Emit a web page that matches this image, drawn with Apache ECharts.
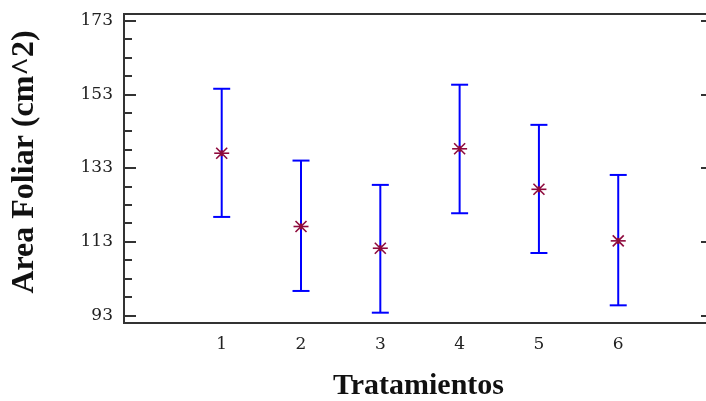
<!DOCTYPE html>
<html>
<head>
<meta charset="utf-8">
<script src="https://cdn.jsdelivr.net/npm/echarts@6/dist/echarts.min.js"></script>
<style>html,body{margin:0;padding:0;background:#fff}#c{width:706px;height:401px}</style>
</head>
<body>
<div id="c"></div>
<script>
var categories = [1, 2, 3, 4, 5, 6];
var means = [137.0, 117.1, 111.2, 138.2, 127.2, 113.2];
var lower = [119.7, 99.6, 93.7, 120.7, 109.9, 95.7];
var upper = [154.5, 135.0, 128.4, 155.6, 144.7, 131.1];
var yTicks = [93, 113, 133, 153, 173];
var yMinorTicks = [98, 103, 108, 118, 123, 128, 138, 143, 148, 158, 163, 168];
var xLabels = ['1', '2', '3', '4', '5', '6'];

var data = categories.map(function (c, i) { return [c, means[i], lower[i], upper[i]]; });
var axisColor = '#333';
var serif = '"Liberation Serif", "DejaVu Serif", serif';
var labelFont = '"DejaVu Serif", serif';
var xMin = -0.232, xMax = 7.195;

function yAxisDef(pos, ticks, len, labels) {
  return {
    type: 'value', position: pos, offset: 0, min: 90.9, max: 174.8,
    axisLine: { show: true, onZero: false, lineStyle: { color: axisColor, width: 2 } },
    axisTick: { show: true, inside: true, length: len, customValues: ticks, lineStyle: { color: axisColor, width: 2 } },
    axisLabel: labels ? { show: true, customValues: ticks, margin: 11, color: '#222', fontFamily: labelFont, fontSize: 17 } : { show: false },
    splitLine: { show: false }
  };
}

var chart = echarts.init(document.getElementById('c'));
chart.setOption({
  animation: false,
  grid: { left: 124, right: -7, top: 14, bottom: 78, outerBoundsMode: 'none', containLabel: false },
  xAxis: [{
    type: 'value', position: 'bottom', offset: 0, min: xMin, max: xMax,
    name: 'Tratamientos', nameLocation: 'middle', nameGap: 48,
    nameTextStyle: { fontFamily: serif, fontWeight: 'bold', fontSize: 30, color: '#111' },
    axisLine: { show: true, onZero: false, lineStyle: { color: axisColor, width: 2 } },
    axisTick: { show: false },
    axisLabel: { show: true, customValues: categories, margin: 13, color: '#222', fontFamily: labelFont, fontSize: 17,
      formatter: function (v) { return xLabels[categories.indexOf(v)]; } },
    splitLine: { show: false }
  }, {
    type: 'value', position: 'top', offset: 0, min: xMin, max: xMax,
    axisLine: { show: true, onZero: false, lineStyle: { color: axisColor, width: 2 } },
    axisTick: { show: false }, axisLabel: { show: false }, splitLine: { show: false }
  }],
  yAxis: [
    yAxisDef('left', yTicks, 12, true),
    yAxisDef('left', yMinorTicks, 8, false),
    yAxisDef('right', yTicks, 12, false),
    yAxisDef('right', yMinorTicks, 6, false)
  ],
  graphic: [{
    type: 'text', x: 25, y: 162, rotation: Math.PI / 2,
    style: { text: 'Area Foliar (cm^2)', fontFamily: serif, fontWeight: 'bold', fontSize: 32, fill: '#111',
      align: 'center', verticalAlign: 'middle' }
  }],
  series: [{
    type: 'custom', xAxisIndex: 0, yAxisIndex: 0, clip: false,
    data: data,
    renderItem: function (params, api) {
      var x = api.value(0);
      var m = api.coord([x, api.value(1)]);
      var lo = api.coord([x, api.value(2)]);
      var hi = api.coord([x, api.value(3)]);
      var cap = 8.5, s = 7.5, d = 5.5;
      var blue = { stroke: '#0000ff', lineWidth: 2 };
      var red = { stroke: '#8e0a3c', lineWidth: 1.6 };
      return {
        type: 'group',
        children: [
          { type: 'line', shape: { x1: lo[0], y1: lo[1], x2: hi[0], y2: hi[1] }, style: blue },
          { type: 'line', shape: { x1: hi[0] - cap, y1: hi[1], x2: hi[0] + cap, y2: hi[1] }, style: blue },
          { type: 'line', shape: { x1: lo[0] - cap, y1: lo[1], x2: lo[0] + cap, y2: lo[1] }, style: blue },
          { type: 'line', shape: { x1: m[0] - s, y1: m[1], x2: m[0] + s, y2: m[1] }, style: red },
          { type: 'line', shape: { x1: m[0] - d, y1: m[1] - d, x2: m[0] + d, y2: m[1] + d }, style: red },
          { type: 'line', shape: { x1: m[0] - d, y1: m[1] + d, x2: m[0] + d, y2: m[1] - d }, style: red },
          { type: 'line', shape: { x1: m[0], y1: m[1] - 3, x2: m[0], y2: m[1] + 3 }, style: { stroke: '#8e0a3c', lineWidth: 2.5 } }
        ]
      };
    }
  }]
});
</script>
</body>
</html>
